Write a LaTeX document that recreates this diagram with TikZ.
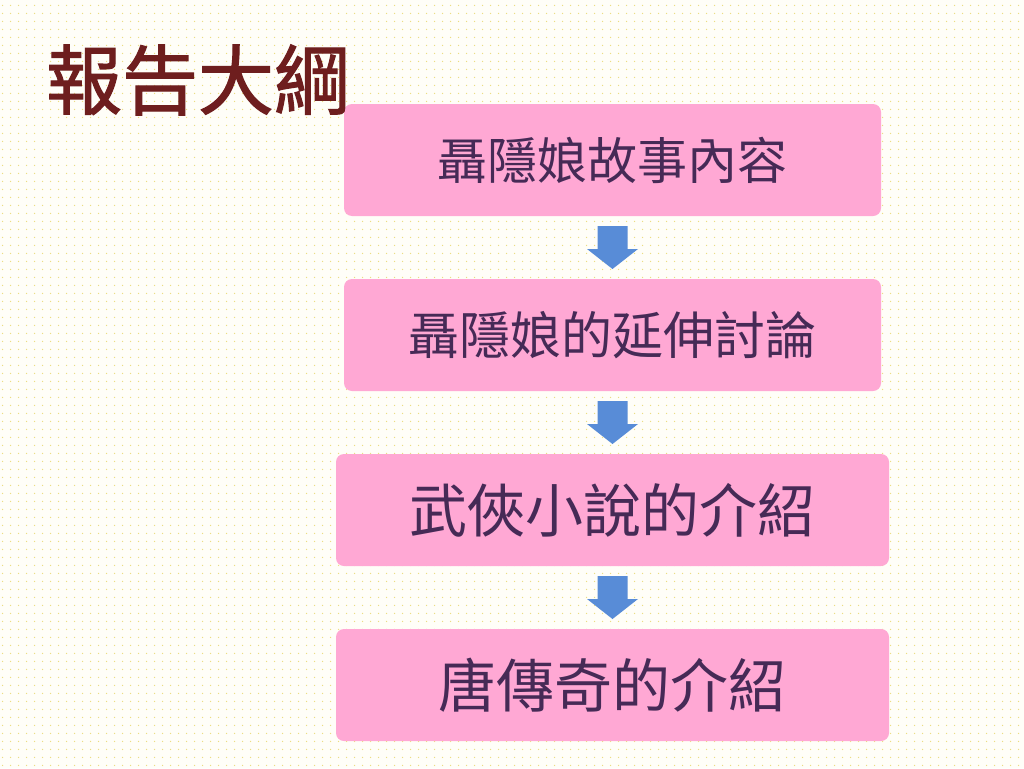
\documentclass[tikz,border=0pt]{standalone}
\usepackage{fontspec}
\newfontfamily\cjk{Noto Sans CJK TC}
\newfontfamily\cjkbold[FakeBold=1.5]{Noto Sans CJK TC}
\usetikzlibrary{patterns,calc}
\definecolor{boxpink}{RGB}{255,168,212}
\definecolor{txtplum}{RGB}{70,42,86}
\definecolor{titlered}{RGB}{110,30,30}
\definecolor{arrowblue}{RGB}{88,140,215}
\definecolor{dotyel}{RGB}{236,222,130}
\definecolor{bgcream}{RGB}{255,254,248}
\pgfdeclarepatternformonly{bgdots}{\pgfpointorigin}{\pgfpoint{8pt}{8pt}}{\pgfpoint{8pt}{8pt}}{%
  \pgfpathcircle{\pgfpoint{4pt}{4pt}}{0.8pt}\pgfusepath{fill}}
\tikzset{
  stepbox/.style={draw=none, fill=boxpink, rounded corners=8pt, inner sep=0pt, text=txtplum},
  downarrow/.style={fill=arrowblue, draw=none},
}
\begin{document}
\begin{tikzpicture}[x=1pt,y=-1pt]
\useasboundingbox (0,0) rectangle (1024,768);
\fill[bgcream] (0,0) rectangle (1024,768);
\fill[pattern=bgdots, pattern color=dotyel] (0,0) rectangle (1024,768);
% boxes
\node[stepbox, minimum width=537pt, minimum height=112pt] (b1) at (612.5,160) {};
\node[stepbox, minimum width=537pt, minimum height=112pt] (b2) at (612.5,335) {};
\node[stepbox, minimum width=553pt, minimum height=112pt] (b3) at (612.5,510) {};
\node[stepbox, minimum width=553pt, minimum height=112pt] (b4) at (612.5,685) {};
\node[text=txtplum, font=\cjk\fontsize{50}{50}\selectfont] (t1) at (b1) {聶隱娘故事內容};
\node[text=txtplum, font=\cjk\fontsize{51}{51}\selectfont] (t2) at (b2) {聶隱娘的延伸討論};
\node[text=txtplum, font=\cjk\fontsize{58}{58}\selectfont] (t3) at (b3) {武俠小說的介紹};
\node[text=txtplum, font=\cjk\fontsize{58}{58}\selectfont] (t4) at (b4) {唐傳奇的介紹};
% arrows between boxes
\foreach \a/\b in {b1/b2,b2/b3,b3/b4}{
  \coordinate (m) at ($(\a.south)!0.5!(\b.north)$);
  \fill[downarrow] ($(m)+(-15,-21.5)$) -- ($(m)+(15,-21.5)$) -- ($(m)+(15,1.5)$)
    -- ($(m)+(25.5,1.5)$) -- ($(m)+(0,21.5)$) -- ($(m)+(-25.5,1.5)$)
    -- ($(m)+(-15,1.5)$) -- cycle;
}
% title
\node[text=titlered, font=\cjkbold\fontsize{76}{76}\selectfont, anchor=center] (title) at (198,80) {報告大綱};
\end{tikzpicture}
\end{document}
